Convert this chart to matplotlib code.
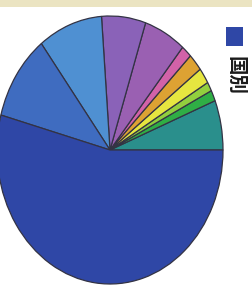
import matplotlib.pyplot as plt
from matplotlib.patches import Rectangle

# slices counterclockwise from 3 o'clock (shares in %)
shares = [6.0, 1.3, 1.1, 1.9, 2.1, 1.5, 6.0, 6.3, 9.2, 10.4, 54.2]
colors = ["#2a8f8c", "#2fae45", "#92cf3e", "#e6e640", "#dda233", "#d262a8",
          "#9a60b2", "#8a62b8", "#4f90d2", "#3f6cc0", "#2f47a6"]
legend_label = "国別"

plt.rcParams['font.family'] = ['Noto Sans CJK JP', 'DejaVu Sans']

fig = plt.figure(figsize=(2.53, 2.85), dpi=100)
fig.patch.set_facecolor("white")

# beige strip at top of the scan
fig.patches.append(Rectangle((0, 1 - 7 / 285), 1, 7 / 285, transform=fig.transFigure,
                             facecolor="#ebe4c2", edgecolor="none"))

ax = fig.add_axes([-3 / 253, 1 / 285, 226 / 253, 268 / 285])
ax.pie(shares, colors=colors, startangle=0, counterclock=True,
       wedgeprops=dict(edgecolor="#333344", linewidth=0.9))
ax.set_aspect("auto")
ax.set_xlim(-1, 1)
ax.set_ylim(-1, 1)
ax.axis("off")

# legend entry (only first one visible)
fig.patches.append(Rectangle((226 / 253, 1 - 46 / 285), 17 / 253, 19 / 285,
                             transform=fig.transFigure, facecolor=colors[-1],
                             edgecolor="none"))
fig.text(235 / 253, 1 - 56 / 285, legend_label, rotation=-90, fontsize=14,
         fontweight="bold", ha="center", va="top", color="#1a1a1a")

fig.savefig("out.png", dpi=100)
